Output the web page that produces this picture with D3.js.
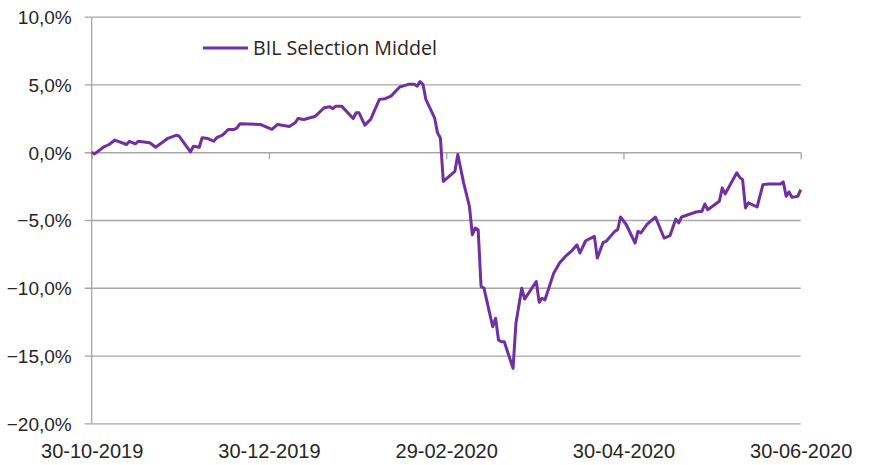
<!DOCTYPE html>
<html>
<head>
<meta charset="utf-8">
<script src="https://cdn.jsdelivr.net/npm/d3@7"></script>
<style>
  html, body { margin: 0; padding: 0; background: #fff; }
  svg { display: block; font-family: "Open Sans", sans-serif; }
</style>
</head>
<body>
<svg id="chart"></svg>
<script>
(function (d3) {
    // ==================================================
    // data

    const seriesName = "BIL Selection Middel";

    const dates = [
        "2019-10-30", "2019-10-31", "2019-11-02", "2019-11-03", "2019-11-05", "2019-11-07",
        "2019-11-11", "2019-11-12", "2019-11-14", "2019-11-15", "2019-11-19", "2019-11-21",
        "2019-11-25", "2019-11-28", "2019-11-29", "2019-12-03", "2019-12-04", "2019-12-06",
        "2019-12-07", "2019-12-09", "2019-12-11", "2019-12-12", "2019-12-14", "2019-12-16",
        "2019-12-18", "2019-12-19", "2019-12-20", "2019-12-27", "2019-12-31", "2020-01-02",
        "2020-01-06", "2020-01-08", "2020-01-09", "2020-01-11", "2020-01-15", "2020-01-18",
        "2020-01-20", "2020-01-21", "2020-01-22", "2020-01-24", "2020-01-28", "2020-01-29",
        "2020-01-30", "2020-02-01", "2020-02-03", "2020-02-06", "2020-02-08", "2020-02-10",
        "2020-02-13", "2020-02-14", "2020-02-16", "2020-02-18", "2020-02-19", "2020-02-20",
        "2020-02-21", "2020-02-22", "2020-02-25", "2020-02-26", "2020-02-27", "2020-02-28",
        "2020-03-03", "2020-03-04", "2020-03-06", "2020-03-08", "2020-03-09", "2020-03-10",
        "2020-03-11", "2020-03-12", "2020-03-13", "2020-03-16", "2020-03-17", "2020-03-18",
        "2020-03-19", "2020-03-20", "2020-03-23", "2020-03-24", "2020-03-26", "2020-03-27",
        "2020-03-31", "2020-04-01", "2020-04-02", "2020-04-03", "2020-04-06", "2020-04-08",
        "2020-04-10", "2020-04-12", "2020-04-14", "2020-04-15", "2020-04-17", "2020-04-20",
        "2020-04-21", "2020-04-23", "2020-04-24", "2020-04-27", "2020-04-28", "2020-04-29",
        "2020-05-01", "2020-05-04", "2020-05-05", "2020-05-06", "2020-05-08", "2020-05-11",
        "2020-05-14", "2020-05-16", "2020-05-18", "2020-05-19", "2020-05-20", "2020-05-25",
        "2020-05-27", "2020-05-28", "2020-05-29", "2020-06-02", "2020-06-03", "2020-06-04",
        "2020-06-08", "2020-06-09", "2020-06-10", "2020-06-11", "2020-06-12", "2020-06-15",
        "2020-06-17", "2020-06-19", "2020-06-23", "2020-06-24", "2020-06-25", "2020-06-26",
        "2020-06-27", "2020-06-29", "2020-06-30"
    ];

    // percent
    const values = [
        0.00, -0.12, 0.20, 0.37, 0.57, 0.90,
        0.57, 0.81, 0.62, 0.81, 0.70, 0.37,
        1.00, 1.25, 1.20, 0.03, 0.44, 0.37,
        1.07, 1.01, 0.81, 1.07, 1.26, 1.68,
        1.68, 1.80, 2.10, 2.05, 1.68, 2.05,
        1.90, 2.17, 2.49, 2.42, 2.66, 3.28,
        3.36, 3.21, 3.40, 3.40, 2.49, 2.91,
        2.91, 2.00, 2.42, 3.90, 3.95, 4.14,
        4.81, 4.88, 5.01, 5.01, 4.88, 5.21,
        5.01, 3.90, 2.54, 1.43, 1.05, -2.15,
        -1.41, -0.17, -2.26, -3.99, -6.09, -5.59,
        -5.72, -9.91, -10.03, -12.87, -12.25, -13.85,
        -13.98, -13.98, -15.95, -12.62, -10.03, -10.84,
        -9.54, -11.07, -10.77, -10.89, -8.92, -8.18,
        -7.69, -7.32, -6.83, -7.44, -6.53, -6.21,
        -7.81, -6.66, -6.58, -5.84, -5.72, -4.78,
        -5.35, -6.70, -5.84, -5.96, -5.35, -4.78,
        -6.33, -6.16, -4.93, -5.22, -4.78, -4.41,
        -4.36, -3.82, -4.24, -3.62, -2.63, -3.08,
        -1.52, -1.85, -2.02, -4.11, -3.74, -4.04,
        -2.39, -2.34, -2.34, -2.19, -3.25, -2.93,
        -3.33, -3.25, -2.76
    ];

    const xTicks = ["2019-10-30", "2019-12-30", "2020-02-29", "2020-04-30", "2020-06-30"];
    const yTicks = [-20, -15, -10, -5, 0, 5, 10];

    // ==================================================
    // layout

    const width = 869;
    const height = 465;
    const left = 91.7, right = 800.7, top = 16.7, bottom = 423.3;

    const gridColor = "#a6a6a6";
    const textColor = "#262626";
    const lineColor = "#7030a0";

    const svg = d3.select("#chart").attr("width", width).attr("height", height);

    const parse = d3.timeParse("%Y-%m-%d");
    const data = dates.map((d, i) => ({ date: parse(d), value: values[i] }));

    const x = d3.scaleTime()
          .domain([parse(xTicks[0]), parse(xTicks[xTicks.length - 1])])
          .range([left, right]);

    const y = d3.scaleLinear()
          .domain([-20, 10])
          .range([bottom, top]);

    const nl = d3.formatLocale({ decimal: ",", thousands: ".", grouping: [3], currency: ["€", ""] });
    const pct = v => nl.format(".1f")(v) + "%";

    // y axis with gridlines
    const yAxis = svg.append("g")
          .attr("transform", `translate(${left},0)`)
          .call(d3.axisLeft(y)
                .tickValues(yTicks)
                .tickSize(-(right - left))
                .tickPadding(20)
                .tickFormat(pct));
    yAxis.select(".domain").remove();
    yAxis.selectAll(".tick line")
        .attr("x1", -7)
        .attr("stroke", gridColor)
        .attr("stroke-width", 1.3);
    yAxis.selectAll(".tick text")
        .attr("fill", textColor)
        .attr("font-size", 19)
        .attr("dy", "0.36em");

    // vertical axis line
    svg.append("line")
        .attr("x1", left).attr("x2", left)
        .attr("y1", top).attr("y2", bottom)
        .attr("stroke", gridColor)
        .attr("stroke-width", 1.3);

    // tick marks on the zero line
    const xTickAxis = svg.append("g")
          .attr("transform", `translate(0,${y(0)})`)
          .call(d3.axisBottom(x)
                .tickValues(xTicks.map(parse))
                .tickSize(7)
                .tickFormat(""));
    xTickAxis.select(".domain").remove();
    xTickAxis.selectAll(".tick line")
        .attr("stroke", gridColor)
        .attr("stroke-width", 1.3);

    // date labels under the plot
    const xLabelAxis = svg.append("g")
          .attr("transform", `translate(0,${bottom})`)
          .call(d3.axisBottom(x)
                .tickValues(xTicks.map(parse))
                .tickSize(0)
                .tickPadding(21)
                .tickFormat(d3.timeFormat("%d-%m-%Y")));
    xLabelAxis.select(".domain").remove();
    xLabelAxis.selectAll(".tick text")
        .attr("fill", textColor)
        .attr("font-size", 20);

    // the series
    const line = d3.line()
          .x(d => x(d.date))
          .y(d => y(d.value));

    svg.append("path")
        .datum(data)
        .attr("fill", "none")
        .attr("stroke", lineColor)
        .attr("stroke-width", 3)
        .attr("stroke-linejoin", "round")
        .attr("d", line);

    // legend
    const legend = svg.append("g").attr("transform", "translate(203,48)");
    legend.append("line")
        .attr("x1", 0).attr("x2", 45)
        .attr("stroke", lineColor)
        .attr("stroke-width", 3);
    legend.append("text")
        .attr("x", 50)
        .attr("dy", "0.36em")
        .attr("fill", textColor)
        .attr("font-size", 19.6)
        .text(seriesName);
})(d3);
</script>
</body>
</html>
